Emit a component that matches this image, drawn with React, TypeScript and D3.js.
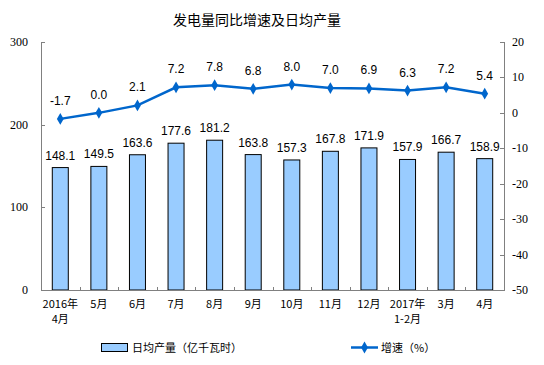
import { useRef, useEffect } from 'react';
import * as d3 from 'd3';

const MONTHS = ['2016年\n4月', '5月', '6月', '7月', '8月', '9月', '10月', '11月', '12月', '2017年\n1-2月', '3月', '4月'];
const OUTPUT = [148.1, 149.5, 163.6, 177.6, 181.2, 163.8, 157.3, 167.8, 171.9, 157.9, 166.7, 158.9];
const GROWTH = [-1.7, 0.0, 2.1, 7.2, 7.8, 6.8, 8.0, 7.0, 6.9, 6.3, 7.2, 5.4];
const LEFT_TICKS = [0, 100, 200, 300];
const RIGHT_TICKS = [-50, -40, -30, -20, -10, 0, 10, 20];

export default function App() {
  const svgRef = useRef<SVGSVGElement>(null);

  useEffect(() => {
    const width = 544;
    const height = 365;
    const svg = d3.select(svgRef.current);
    svg.selectAll('*').remove();
    svg.attr('width', width).attr('height', height);

    const left = 41;
    const right = 504;
    const top = 42;
    const bottom = 290;
    const serif = '"Liberation Serif", "Times New Roman", serif';
    const sans = '"Liberation Sans", Arial, sans-serif';
    const cjk = '"Noto Sans CJK SC", sans-serif';
    const axisColor = '#808080';

    svg.append('rect').attr('width', width).attr('height', height).attr('fill', '#fff');

    // Title
    svg.append('text')
      .attr('x', 257).attr('y', 25)
      .attr('text-anchor', 'middle')
      .style('font-family', cjk).style('font-size', '14px')
      .attr('fill', '#000')
      .text('发电量同比增速及日均产量');

    const x = d3.scaleBand<number>().domain(d3.range(MONTHS.length)).range([left, right]);
    const yL = d3.scaleLinear().domain([0, 300]).range([bottom, top]);
    const yR = d3.scaleLinear().domain([-50, 20]).range([bottom, top]);
    const barW = 16;

    // Bars
    const g = svg.append('g');
    OUTPUT.forEach((v, i) => {
      const cx = x(i)! + x.bandwidth() / 2;
      g.append('rect')
        .attr('x', cx - barW / 2).attr('y', yL(v))
        .attr('width', barW).attr('height', bottom - yL(v))
        .attr('fill', '#99CCFF').attr('stroke', '#000').attr('stroke-width', 1);
      g.append('text')
        .attr('x', cx).attr('y', yL(v) - 8)
        .attr('text-anchor', 'middle')
        .style('font-family', sans).style('font-size', '12px')
        .text(v.toFixed(1));
    });

    // Axes
    const ax = svg.append('g').attr('stroke', axisColor).attr('stroke-width', 1).attr('fill', 'none');
    ax.append('line').attr('x1', left + 0.5).attr('x2', left + 0.5).attr('y1', top).attr('y2', bottom);
    ax.append('line').attr('x1', right + 0.5).attr('x2', right + 0.5).attr('y1', top).attr('y2', bottom);
    ax.append('line').attr('x1', left).attr('x2', right + 1).attr('y1', bottom + 0.5).attr('y2', bottom + 0.5);
    LEFT_TICKS.forEach((t) => {
      const y = Math.round(yL(t)) + 0.5;
      ax.append('line').attr('x1', left).attr('x2', left + 4).attr('y1', y).attr('y2', y);
      svg.append('text')
        .attr('x', 28).attr('y', yL(t) + 4)
        .attr('text-anchor', 'end')
        .style('font-family', serif).style('font-size', '12px')
        .text(t);
    });
    RIGHT_TICKS.forEach((t) => {
      const y = Math.round(yR(t)) + 0.5;
      ax.append('line').attr('x1', right - 4).attr('x2', right).attr('y1', y).attr('y2', y);
      svg.append('text')
        .attr('x', 512).attr('y', yR(t) + 4)
        .style('font-family', serif).style('font-size', '12px')
        .text(t);
    });
    d3.range(1, MONTHS.length).forEach((i) => {
      const xx = Math.round(x(i)!) + 0.5;
      ax.append('line').attr('x1', xx).attr('x2', xx).attr('y1', bottom).attr('y2', bottom - 3);
    });

    // Category labels (two-line ones drawn as separate texts)
    MONTHS.forEach((m, i) => {
      const cx = x(i)! + x.bandwidth() / 2;
      m.split('\n').forEach((line, j) => {
        svg.append('text')
          .attr('x', cx).attr('y', 308 + j * 15)
          .attr('text-anchor', 'middle')
          .style('font-family', cjk).style('font-size', '11px')
          .text(line);
      });
    });

    // Growth line
    const line = d3.line<number>()
      .x((_, i) => x(i)! + x.bandwidth() / 2)
      .y((d) => yR(d));
    svg.append('path')
      .datum(GROWTH)
      .attr('d', line)
      .attr('fill', 'none').attr('stroke', '#0066CC').attr('stroke-width', 2.5);
    const diamond = d3.symbol().type(d3.symbolDiamond).size(40);
    GROWTH.forEach((v, i) => {
      const cx = x(i)! + x.bandwidth() / 2;
      svg.append('path')
        .attr('d', diamond)
        .attr('transform', `translate(${cx},${yR(v)})`)
        .attr('fill', '#0066CC');
      svg.append('text')
        .attr('x', cx).attr('y', yR(v) - 14)
        .attr('text-anchor', 'middle')
        .style('font-family', sans).style('font-size', '12px')
        .text(v.toFixed(1));
    });

    // Legend
    const lg = svg.append('g');
    lg.append('rect').attr('x', 101.5).attr('y', 343.5).attr('width', 26).attr('height', 8)
      .attr('fill', '#99CCFF').attr('stroke', '#000');
    lg.append('text').attr('x', 132).attr('y', 352)
      .style('font-family', cjk).style('font-size', '11px')
      .text('日均产量（亿千瓦时）');
    lg.append('line').attr('x1', 351).attr('x2', 378).attr('y1', 347.5).attr('y2', 347.5)
      .attr('stroke', '#0066CC').attr('stroke-width', 2.5);
    lg.append('path').attr('d', diamond).attr('transform', 'translate(364.5,347.5)').attr('fill', '#0066CC');
    lg.append('text').attr('x', 381).attr('y', 352)
      .style('font-family', cjk).style('font-size', '11px')
      .text('增速（%）');
  }, []);

  return <svg ref={svgRef} style={{ position: 'absolute', left: 0, top: 0, display: 'block' }} />;
}
